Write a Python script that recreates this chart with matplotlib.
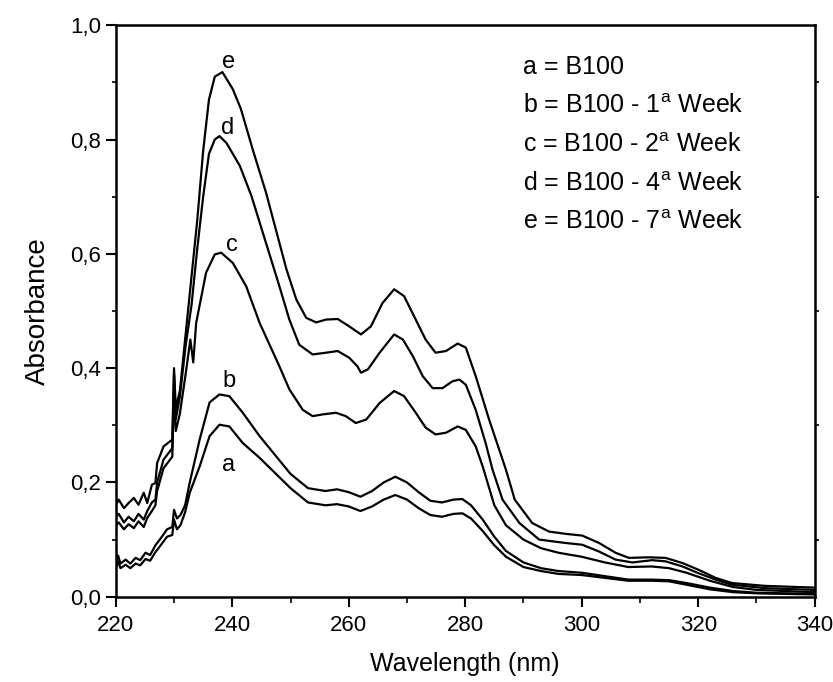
import matplotlib
matplotlib.use("Agg")
import matplotlib.pyplot as plt
from matplotlib.ticker import MultipleLocator, FuncFormatter

plt.rcParams["font.family"] = ["Liberation Sans", "DejaVu Sans"]
plt.rcParams["mathtext.fontset"] = "custom"
plt.rcParams["mathtext.rm"] = "Liberation Sans"
plt.rcParams["mathtext.it"] = "Liberation Sans"

# ------------------------------------------------------------
# Data
# ------------------------------------------------------------
wl_a = [220, 220.4, 220.8, 221.7, 222.5, 223.4, 224.2, 225.1, 225.9, 226.8, 227.7, 228.8,
        229.7, 230, 230.5, 231.1, 231.9, 232.7, 234.4, 236.1, 237.8, 239.5, 241.8, 244.7,
        250, 253, 256, 258, 260, 262, 264, 266, 268, 270, 272, 274, 276, 278, 279.5, 281,
        283, 285, 287, 290, 293, 296, 300, 304, 308, 312, 315, 318, 322, 326, 330, 340]
abs_a = [0.050, 0.062, 0.050, 0.056, 0.050, 0.058, 0.055, 0.066, 0.063, 0.078, 0.090, 0.105,
         0.108, 0.135, 0.118, 0.125, 0.148, 0.182, 0.228, 0.281, 0.301, 0.298, 0.269, 0.243,
         0.190, 0.165, 0.160, 0.162, 0.158, 0.150, 0.158, 0.170, 0.178, 0.170, 0.155, 0.143,
         0.140, 0.145, 0.146, 0.137, 0.115, 0.090, 0.070, 0.052, 0.045, 0.040, 0.038, 0.033,
         0.028, 0.028, 0.027, 0.021, 0.013, 0.008, 0.006, 0.004]

wl_b = wl_a
abs_b = [0.060, 0.072, 0.058, 0.065, 0.058, 0.068, 0.064, 0.077, 0.073, 0.090, 0.102, 0.118,
         0.122, 0.152, 0.137, 0.143, 0.160, 0.200, 0.275, 0.340, 0.354, 0.351, 0.322, 0.281,
         0.215, 0.190, 0.185, 0.188, 0.183, 0.175, 0.185, 0.200, 0.210, 0.200, 0.183, 0.168,
         0.165, 0.170, 0.171, 0.160, 0.135, 0.105, 0.080, 0.060, 0.050, 0.045, 0.042, 0.036,
         0.030, 0.030, 0.029, 0.024, 0.016, 0.010, 0.007, 0.005]

wl_c = [220, 220.5, 221.4, 222.2, 223.1, 223.9, 224.8, 225.4, 226.2, 226.8, 227.1, 228.2,
        229.7, 230, 230.3, 231, 232, 232.8, 233.3, 233.8, 235.5, 237, 238.1, 240.1, 242.4,
        244.7, 248.1, 249.8, 252.1, 253.8, 255.5, 257.8, 259.5, 261.2, 263, 265.3, 267.8,
        269.5, 271.5, 273.2, 274.9, 276.7, 278.7, 280.1, 281.8, 283, 285, 287, 290, 293,
        296, 300, 304, 308, 312, 315, 318, 322, 326, 330, 340]
abs_c = [0.125, 0.130, 0.118, 0.127, 0.120, 0.132, 0.122, 0.138, 0.150, 0.160, 0.185, 0.225,
         0.245, 0.360, 0.290, 0.320, 0.390, 0.450, 0.410, 0.479, 0.567, 0.599, 0.602, 0.584,
         0.543, 0.479, 0.403, 0.363, 0.327, 0.316, 0.319, 0.322, 0.316, 0.304, 0.310, 0.339,
         0.360, 0.351, 0.322, 0.296, 0.284, 0.287, 0.298, 0.292, 0.263, 0.228, 0.160, 0.125,
         0.100, 0.085, 0.077, 0.070, 0.060, 0.052, 0.053, 0.050, 0.042, 0.028, 0.017, 0.012,
         0.008]

wl_d = [220, 220.5, 221.4, 222.2, 223.1, 223.9, 224.8, 225.4, 226.2, 226.8, 227.1, 228.2,
        229.7, 230, 230.3, 231, 232, 233, 234, 235, 236, 237, 237.8, 239, 241.3, 243.3,
        248.1, 249.8, 251.5, 253.8, 256.1, 258.1, 260.1, 261.5, 262.1, 263.3, 265.3, 267.8,
        269.3, 271, 272.7, 274.4, 276.1, 277.8, 279, 280.1, 281.8, 283.5, 284.7, 286.4,
        289.3, 292.7, 297.3, 300.1, 303, 305.8, 308.7, 312.1, 314.4, 317.3, 320.1, 323,
        325.8, 331.5, 340]
abs_d = [0.140, 0.145, 0.130, 0.140, 0.132, 0.145, 0.135, 0.150, 0.165, 0.170, 0.200, 0.240,
         0.260, 0.390, 0.310, 0.350, 0.440, 0.510, 0.610, 0.700, 0.775, 0.800, 0.806, 0.794,
         0.754, 0.701, 0.543, 0.485, 0.441, 0.424, 0.427, 0.430, 0.418, 0.403, 0.392, 0.398,
         0.427, 0.459, 0.450, 0.421, 0.386, 0.365, 0.365, 0.377, 0.380, 0.371, 0.327, 0.269,
         0.222, 0.170, 0.129, 0.100, 0.094, 0.091, 0.079, 0.065, 0.060, 0.064, 0.062, 0.053,
         0.041, 0.030, 0.021, 0.015, 0.012]

wl_e = [220, 220.5, 221.4, 222.2, 223.1, 223.9, 224.8, 225.4, 226.2, 226.8, 227.1, 228.2,
        229.7, 230, 230.3, 231, 232, 233, 234, 235, 236, 237, 238.3, 240.1, 241.5, 243.5,
        245.8, 249.3, 251, 252.7, 254.4, 256.1, 258.1, 260.1, 262.1, 263.8, 265.8, 267.8,
        269.5, 271.5, 273.2, 274.9, 276.7, 278.7, 280.1, 281.8, 284.1, 287, 288.5, 291.5,
        294.4, 297.3, 300.1, 303, 305.8, 308.1, 311.5, 314.4, 317.3, 320.1, 323, 325.8,
        331.5, 340]
abs_e = [0.160, 0.170, 0.155, 0.164, 0.173, 0.161, 0.182, 0.164, 0.196, 0.199, 0.234, 0.263,
         0.275, 0.400, 0.330, 0.360, 0.460, 0.560, 0.660, 0.780, 0.870, 0.910, 0.918, 0.888,
         0.853, 0.783, 0.707, 0.573, 0.520, 0.488, 0.480, 0.485, 0.486, 0.473, 0.459, 0.473,
         0.514, 0.538, 0.526, 0.485, 0.450, 0.427, 0.430, 0.443, 0.436, 0.386, 0.310, 0.222,
         0.170, 0.129, 0.114, 0.110, 0.107, 0.094, 0.077, 0.068, 0.069, 0.068, 0.059, 0.047,
         0.033, 0.024, 0.019, 0.016]

curve_letters = ["a", "b", "c", "d", "e"]
# where each letter sits over its peak (wavelength, absorbance)
letter_x = [239.4, 239.4, 239.9, 239.2, 239.4]
letter_y = [0.231, 0.378, 0.616, 0.821, 0.935]

legend_lines = [
    "a = B100",
    r"b = B100 - 1$^{\mathrm{a}}$ Week",
    r"c = B100 - 2$^{\mathrm{a}}$ Week",
    r"d = B100 - 4$^{\mathrm{a}}$ Week",
    r"e = B100 - 7$^{\mathrm{a}}$ Week",
]

# ------------------------------------------------------------
# Plot
# ------------------------------------------------------------
fig = plt.figure(figsize=(8.33, 6.82), dpi=100)
ax = fig.add_axes([0.139, 0.125, 0.839, 0.838])

for wl, ab in [(wl_a, abs_a), (wl_b, abs_b), (wl_c, abs_c), (wl_d, abs_d), (wl_e, abs_e)]:
    ax.plot(wl, ab, color="black", lw=1.6)

for lt, lx, ly in zip(curve_letters, letter_x, letter_y):
    ax.text(lx, ly, lt, fontsize=17, ha="center", va="center")

for i, line in enumerate(legend_lines):
    ax.text(0.582, 0.927 - i * 0.068, line, transform=ax.transAxes,
            fontsize=18, ha="left", va="center")

ax.set_xlim(220, 340)
ax.set_ylim(0, 1.0)
ax.xaxis.set_major_locator(MultipleLocator(20))
ax.xaxis.set_minor_locator(MultipleLocator(10))
ax.yaxis.set_major_locator(MultipleLocator(0.2))
ax.yaxis.set_minor_locator(MultipleLocator(0.1))
ax.yaxis.set_major_formatter(FuncFormatter(lambda v, p: f"{v:.1f}".replace(".", ",")))

ax.tick_params(which="major", direction="out", length=7, width=1.5, labelsize=16)
ax.tick_params(axis="x", which="major", pad=6)
ax.tick_params(which="minor", direction="out", length=4, width=1.2)
ax.tick_params(which="both", right=True, top=False)
ax.tick_params(axis="y", which="major", right=False)
ax.tick_params(axis="y", which="minor", length=3)

for s in ax.spines.values():
    s.set_linewidth(1.8)

ax.set_xlabel("Wavelength (nm)", fontsize=18, labelpad=12)
ax.set_ylabel("Absorbance", fontsize=20, labelpad=14)

fig.savefig("out.png", dpi=100)
